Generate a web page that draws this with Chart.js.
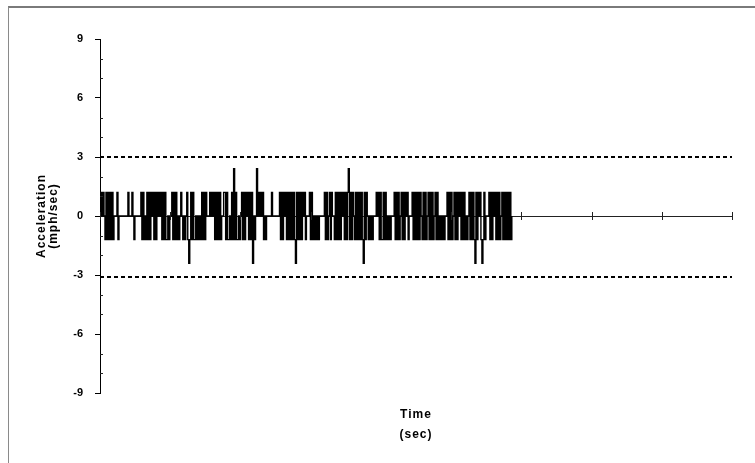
<!DOCTYPE html>
<html>
<head>
<meta charset="utf-8">
<script src="https://cdn.jsdelivr.net/npm/chart.js@4.4.1/dist/chart.umd.min.js"></script>
<style>
    html, body { margin: 0; padding: 0; background: #fff; }
    #wrap { position: relative; width: 755px; height: 463px; overflow: hidden; }
    #frame { position: absolute; left: 8px; top: 6px; right: 0; bottom: 0; border-left: 1px solid #8a8a8a; border-top: 2px solid #7a7a7a; pointer-events: none; }
    canvas { position: absolute; left: 0; top: 0; }
</style>
</head>
<body>
<div id="wrap">
    <canvas id="chart" width="755" height="463"></canvas>
    <div id="frame"></div>
</div>
<script>
// DATA
const SAMPLE_STEP = 1.42; // seconds between readings
const LEVELS = { "0": 0, "u": 1.2, "d": -1.2, "P": 2.4, "M": -2.4 };

// one code per reading left to right
const accelTrace = [
    "0u0u0", "dudududud", "000", "ud", "000000000", "u", "000", "u", "0", "d", "000000",
    "udud0dududu0udud", "u0u0u", "dudud", "d0d", "00", "ududud", "0d0u0", "d0d0",
    "udMdudud", "d0d0d0d", "ududu", "000", "u0u0u", "dududud", "00u", "udud", "d0d",
    "udPdud", "d0d0", "ududu", "0", "ududu", "M", "0d0", "P", "0u0u0ud", "0d00000",
    "u", "0000000", "ududu0udud", "udududMudu",
    "dudu0ud", "000", "udu", "d0d0d0d", "00000", "udud0udu", "00", "dudududu0ududu",
    "P", "dudu0dud", "udududMudu0d", "0d0d000", "u0udud", "dudud0d0d0", "00",
    "ududud0ududu0ud", "000", "ududududu", "0", "dudud0ududud0udud", "0d0d0d0", "0",
    "ududu", "d0", "ududu0ududud", "0d0", "udududMudu0udMdud", "000",
    "ududu0ududud0ududududud", "0"
].join("");

const upperLimit = 3;
const lowerLimit = -3.1;
const timeRange = [0, 900];
const timeTicks = [0, 100, 200, 300, 400, 500, 600, 700, 800, 900];
const yTicks = [-9, -6, -3, 0, 3, 6, 9];
const xTitle = ["Time", "(sec)"];
const yTitle = ["Acceleration", "(mph/sec)"];

const FONT = '"Liberation Sans", Arial, sans-serif';

const accelPoints = accelTrace.split("").map((c, i) => ({ x: i * SAMPLE_STEP, y: LEVELS[c] }));
const limitLine = (v) => timeRange.map(t => ({ x: t, y: v }));

// tick marks the library can't draw (crossing x ticks, inward minor y ticks) + titles
const axisExtras = {
    id: "axisExtras",
    afterDraw(chart) {
        const { ctx, chartArea, scales: { x, y } } = chart;
        const y0 = y.getPixelForValue(0);
        ctx.save();
        ctx.strokeStyle = "#222";
        ctx.lineWidth = 1;
        ctx.beginPath();
        timeTicks.forEach(t => {
            const px = Math.round(x.getPixelForValue(t)) + 0.5;
            ctx.moveTo(px, y0 - 4);
            ctx.lineTo(px, y0 + 4);
        });
        for (let v = -9; v <= 9; v++) {
            if (yTicks.includes(v)) continue;
            const py = Math.round(y.getPixelForValue(v)) + 0.5;
            ctx.moveTo(chartArea.left, py);
            ctx.lineTo(chartArea.left + 3, py);
        }
        ctx.stroke();

        ctx.fillStyle = "#000";
        ctx.font = "bold 12px " + FONT;
        ctx.letterSpacing = "1px";
        ctx.textAlign = "center";
        ctx.textBaseline = "middle";
        const cx = (chartArea.left + chartArea.right) / 2;
        ctx.fillText(xTitle[0], cx, 415);
        ctx.fillText(xTitle[1], cx, 435);
        ctx.translate(42, (chartArea.top + chartArea.bottom) / 2);
        ctx.rotate(-Math.PI / 2);
        ctx.fillText(yTitle[0], 0, 0);
        ctx.fillText(yTitle[1], 0, 12);
        ctx.restore();
    }
};

new Chart(document.getElementById("chart"), {
    type: "line",
    data: {
        datasets: [
            { data: accelPoints, borderColor: "#000", borderWidth: 1.4, pointRadius: 0, stepped: true },
            { data: limitLine(upperLimit), borderColor: "#000", borderWidth: 2, borderDash: [4, 3], pointRadius: 0 },
            { data: limitLine(lowerLimit), borderColor: "#000", borderWidth: 2, borderDash: [4, 3], pointRadius: 0 }
        ]
    },
    options: {
        responsive: false,
        animation: false,
        layout: { padding: { left: 0, right: 23, top: 39, bottom: 70 } },
        plugins: { legend: { display: false }, tooltip: { enabled: false } },
        scales: {
            x: {
                type: "linear",
                min: timeRange[0],
                max: timeRange[1],
                position: { y: 0 },
                ticks: { display: false, stepSize: 100 },
                grid: { display: false },
                border: { color: "#222", width: 1 }
            },
            y: {
                min: -9,
                max: 9,
                ticks: {
                    stepSize: 1,
                    autoSkip: false,
                    padding: 12,
                    color: "#000",
                    font: { family: FONT, size: 11, weight: "bold" },
                    callback: v => yTicks.includes(v) ? v : ""
                },
                grid: {
                    drawOnChartArea: false,
                    tickLength: 5,
                    tickColor: c => yTicks.includes(c.tick.value) ? "#000" : "rgba(0,0,0,0)"
                },
                border: { color: "#000", width: 1 },
                afterFit: s => { s.width = 100; }
            }
        }
    },
    plugins: [axisExtras]
});
</script>
</body>
</html>
